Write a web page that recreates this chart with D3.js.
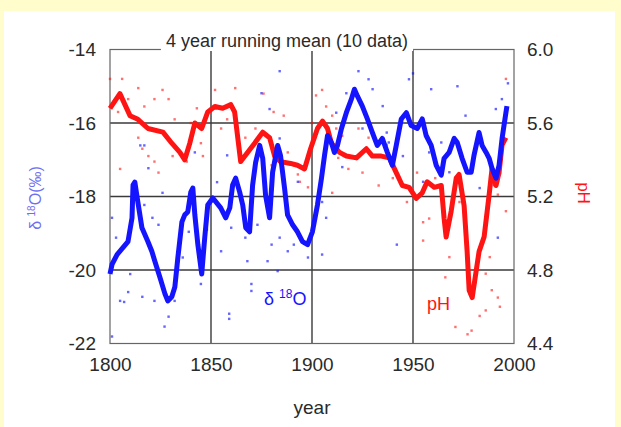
<!DOCTYPE html>
<html>
<head>
<meta charset="utf-8">
<script src="https://cdn.jsdelivr.net/npm/d3@7"></script>
<style>
  body { margin: 0; background: #fffdcc; }
  svg { display: block; font-family: "Liberation Sans", Arial, sans-serif; }
</style>
</head>
<body>
<svg id="chart" width="621" height="427"></svg>
<script>
// 4 year running means, [year, value]
const d18oMean = [
  [1800.0, -20.11], [1801.0, -19.85], [1803.5, -19.58], [1806.4, -19.39], [1808.9, -19.23],
  [1810.9, -18.58], [1811.4, -17.69], [1812.3, -17.61], [1813.8, -18.15], [1815.8, -18.85],
  [1817.3, -19.04], [1818.8, -19.23], [1820.7, -19.49], [1822.2, -19.76], [1824.7, -20.20],
  [1827.2, -20.65], [1828.6, -20.84], [1830.6, -20.73], [1832.1, -20.46], [1833.6, -19.66],
  [1835.6, -18.69], [1837.0, -18.50], [1838.5, -18.42], [1840.0, -17.88], [1841.0, -17.77],
  [1842.0, -18.50], [1843.5, -19.31], [1845.4, -20.11], [1846.9, -19.12], [1848.4, -18.23],
  [1850.9, -18.04], [1854.8, -18.31], [1857.3, -18.58], [1859.3, -18.31], [1860.7, -17.69],
  [1862.2, -17.50], [1864.2, -17.88], [1865.7, -18.23], [1867.2, -18.85], [1869.1, -18.96],
  [1870.6, -17.69], [1872.1, -17.07], [1874.1, -16.61], [1875.6, -16.96], [1877.0, -17.96],
  [1879.0, -18.58], [1880.5, -17.34], [1883.0, -16.61], [1884.4, -16.88], [1886.4, -17.77],
  [1887.9, -18.50], [1890.4, -18.77], [1892.8, -18.96], [1895.3, -19.23], [1897.8, -19.31],
  [1900.2, -18.96], [1902.7, -18.23], [1904.7, -17.50], [1906.2, -16.88], [1907.7, -16.34],
  [1909.6, -16.53], [1911.1, -16.80], [1912.6, -16.61], [1914.6, -16.15], [1917.0, -15.72],
  [1919.5, -15.35], [1921.0, -15.08], [1922.5, -15.27], [1924.9, -15.54], [1927.4, -15.89],
  [1929.9, -16.26], [1932.3, -16.61], [1934.8, -16.42], [1937.3, -16.80], [1939.8, -17.15],
  [1941.7, -16.61], [1944.2, -15.89], [1946.7, -15.72], [1949.1, -16.07], [1952.1, -16.15],
  [1954.6, -15.89], [1956.5, -16.34], [1959.0, -16.61], [1961.5, -17.15], [1964.0, -17.42],
  [1965.4, -16.96], [1967.9, -16.80], [1970.4, -16.42], [1971.9, -16.53], [1974.3, -16.96],
  [1976.8, -17.34], [1978.8, -17.34], [1980.2, -16.88], [1982.7, -16.26], [1984.2, -16.61],
  [1986.2, -16.80], [1987.7, -16.96], [1989.1, -17.23], [1991.1, -17.50], [1992.6, -17.15],
  [1994.1, -16.42], [1996.0, -15.72], [1996.5, -15.54]
];

const phMean = [
  [1800.0, 5.68], [1804.9, 5.76], [1809.9, 5.64], [1813.8, 5.62], [1818.8, 5.57],
  [1826.2, 5.55], [1830.6, 5.49], [1834.6, 5.44], [1837.0, 5.40], [1839.5, 5.49],
  [1842.0, 5.60], [1845.4, 5.57], [1848.4, 5.66], [1851.9, 5.69], [1855.8, 5.68],
  [1859.8, 5.70], [1861.7, 5.66], [1864.7, 5.39], [1868.1, 5.44], [1871.6, 5.49],
  [1875.6, 5.55], [1879.0, 5.52], [1881.5, 5.42], [1884.4, 5.39], [1889.4, 5.38],
  [1892.8, 5.37], [1896.3, 5.35], [1899.3, 5.46], [1902.7, 5.57], [1905.2, 5.61],
  [1907.7, 5.57], [1909.6, 5.49], [1913.6, 5.44], [1917.0, 5.42], [1922.0, 5.41],
  [1926.9, 5.46], [1929.9, 5.42], [1934.3, 5.42], [1938.3, 5.41], [1941.7, 5.33],
  [1944.7, 5.26], [1948.1, 5.25], [1951.6, 5.19], [1954.6, 5.22], [1957.0, 5.28],
  [1960.5, 5.25], [1964.0, 5.26], [1965.4, 5.08], [1966.4, 4.98], [1968.9, 5.12],
  [1971.4, 5.30], [1972.8, 5.32], [1975.3, 5.15], [1976.8, 4.90], [1977.8, 4.69],
  [1979.3, 4.65], [1981.2, 4.79], [1982.7, 4.90], [1985.2, 4.98], [1987.7, 5.21],
  [1989.1, 5.35], [1991.1, 5.26], [1992.6, 5.33], [1994.1, 5.48], [1996.0, 5.52]
];

// single measurements (scatter)
const d18oPoints = [
  [1815, -16.61], [1801, -18.58], [1803, -19.12], [1817, -18.23], [1821, -18.58],
  [1824, -18.77], [1810, -20.11], [1809, -20.60], [1805, -20.84], [1807, -20.87],
  [1816, -20.73], [1822, -20.84], [1829, -21.27], [1827, -21.54], [1832, -20.84],
  [1836, -19.66], [1839, -18.96], [1845, -20.38], [1801, -21.81], [1817, -16.61],
  [1819, -17.23], [1842, -16.80], [1884, -14.59], [1875, -15.19], [1879, -15.62],
  [1858, -16.88], [1853, -17.61], [1860, -18.85], [1867, -19.12], [1873, -18.77],
  [1880, -19.31], [1884, -19.12], [1888, -19.49], [1891, -19.31], [1855, -19.49],
  [1868, -19.76], [1878, -19.76], [1883, -20.03], [1898, -19.66], [1870, -20.38],
  [1870, -20.57], [1859, -21.19], [1859, -21.33], [1865, -16.96], [1884, -16.42],
  [1923, -14.59], [1928, -14.81], [1930, -15.08], [1935, -15.54], [1917, -15.19],
  [1912, -15.72], [1905, -18.15], [1907, -18.58], [1905, -19.58], [1925, -16.15],
  [1937, -16.26], [1948, -14.81], [1942, -19.31], [1938, -16.53], [1950, -14.65],
  [1959, -15.08], [1972, -15.00], [1976, -15.80], [1991, -15.62], [1994, -15.35],
  [1997, -14.92], [1964, -16.53], [1981, -16.80], [1983, -17.77], [1990, -17.69],
  [1992, -19.12], [1958, -16.80], [1968, -17.34], [1826, -17.90], [1848, -18.90],
  [1863, -16.40], [1893, -17.60], [1915, -17.20], [1945, -16.90], [1955, -17.60]
];

const phPoints = [
  [1800, 5.84], [1806, 5.84], [1814, 5.79], [1822, 5.73], [1826, 5.78], [1829, 5.73],
  [1809, 5.73], [1817, 5.69], [1804, 5.66], [1814, 5.52], [1819, 5.42], [1822, 5.39],
  [1824, 5.33], [1816, 5.46], [1831, 5.42], [1832, 5.62], [1840, 5.60], [1843, 5.68],
  [1845, 5.49], [1846, 5.42], [1838, 5.39], [1805, 5.35], [1847, 5.62], [1852, 5.78],
  [1862, 5.79], [1859, 5.70], [1876, 5.76], [1881, 5.66], [1886, 5.64], [1855, 5.57],
  [1858, 5.62], [1867, 5.52], [1872, 5.57], [1888, 5.44], [1891, 5.37], [1894, 5.28],
  [1898, 5.25], [1893, 5.32], [1880, 5.37], [1900, 5.60], [1902, 5.75], [1907, 5.69],
  [1910, 5.64], [1912, 5.57], [1915, 5.53], [1913, 5.41], [1910, 5.22], [1918, 5.35],
  [1925, 5.33], [1933, 5.26], [1940, 5.30], [1947, 5.17], [1937, 5.48], [1928, 5.52],
  [1905, 5.78], [1923, 5.57], [1955, 5.06], [1958, 5.08], [1955, 4.96], [1968, 4.87],
  [1966, 4.76], [1986, 4.78], [1988, 4.87], [1989, 4.69], [1992, 4.65], [1993, 4.60],
  [1986, 4.58], [1983, 4.55], [1979, 4.47], [1971, 4.49], [1977, 4.45], [1996, 5.84],
  [1973, 5.17], [1961, 5.30], [1952, 5.33], [1996, 5.12], [1992, 5.21]
];

const yearTicks = [1800, 1850, 1900, 1950, 2000];
const d18oTicks = [-22, -20, -18, -16, -14];
const phTicks = [4.4, 4.8, 5.2, 5.6, 6.0];

const blue = "#1414ff";
const red = "#ff1414";

const svg = d3.select("#chart");

svg.append("rect")
  .attr("width", 621).attr("height", 427)
  .attr("fill", "#fffdcc");
svg.append("rect")
  .attr("x", 4).attr("y", 11)
  .attr("width", 611).attr("height", 416)
  .attr("fill", "#ffffff");

const x = d3.scaleLinear().domain([1800, 2000]).range([110, 514]);
const yLeft = d3.scaleLinear().domain([-22, -14]).range([343.5, 49.5]);
const yRight = d3.scaleLinear().domain([4.4, 6.0]).range([343.5, 49.5]);

// grid
const grid = svg.append("g")
  .attr("stroke", "#3a3a3a")
  .attr("stroke-width", 1.4);

grid.selectAll("line.v").data(yearTicks.slice(1, -1)).enter().append("line")
  .attr("x1", d => x(d)).attr("x2", d => x(d))
  .attr("y1", yLeft(-22)).attr("y2", yLeft(-14));

grid.selectAll("line.h").data(d18oTicks.slice(1, -1)).enter().append("line")
  .attr("x1", x(1800)).attr("x2", x(2000))
  .attr("y1", d => yLeft(d)).attr("y2", d => yLeft(d));

svg.append("rect")
  .attr("x", x(1800)).attr("y", yLeft(-14))
  .attr("width", x(2000) - x(1800))
  .attr("height", yLeft(-22) - yLeft(-14))
  .attr("fill", "none")
  .attr("stroke", "#666")
  .attr("stroke-width", 1.2);

// scatter
svg.append("g").attr("fill", red).attr("opacity", 0.6)
  .selectAll("rect").data(phPoints).enter().append("rect")
  .attr("x", d => x(d[0]) - 1.2).attr("y", d => yRight(d[1]) - 1.2)
  .attr("width", 2.4).attr("height", 2.4);

svg.append("g").attr("fill", blue).attr("opacity", 0.65)
  .selectAll("rect").data(d18oPoints).enter().append("rect")
  .attr("x", d => x(d[0]) - 1.2).attr("y", d => yLeft(d[1]) - 1.2)
  .attr("width", 2.4).attr("height", 2.4);

// running means
const phLine = d3.line().x(d => x(d[0])).y(d => yRight(d[1]));
const d18oLine = d3.line().x(d => x(d[0])).y(d => yLeft(d[1]));

svg.append("path")
  .datum(phMean)
  .attr("d", phLine)
  .attr("fill", "none")
  .attr("stroke", red)
  .attr("stroke-width", 5)
  .attr("stroke-linejoin", "round");

svg.append("path")
  .datum(d18oMean)
  .attr("d", d18oLine)
  .attr("fill", "none")
  .attr("stroke", blue)
  .attr("stroke-width", 5)
  .attr("stroke-linejoin", "round");

// axes
function styleAxis(g) {
  g.select(".domain").remove();
  g.selectAll("text")
    .attr("fill", "#2a2a2a")
    .style("font-size", "19px");
}

svg.append("g")
  .attr("transform", `translate(${x(1800)},0)`)
  .call(d3.axisLeft(yLeft).tickValues(d18oTicks).tickSize(0).tickPadding(14)
    .tickFormat(d => String(d)))
  .call(styleAxis);

svg.append("g")
  .attr("transform", `translate(${x(2000)},0)`)
  .call(d3.axisRight(yRight).tickValues(phTicks).tickSize(0).tickPadding(13)
    .tickFormat(d3.format(".1f")))
  .call(styleAxis);

svg.append("g")
  .attr("transform", `translate(0,${yLeft(-22)})`)
  .call(d3.axisBottom(x).tickValues(yearTicks).tickSize(0).tickPadding(14)
    .tickFormat(d => String(d)))
  .call(styleAxis);

// title sitting on the top frame
const title = svg.append("text")
  .attr("x", 287).attr("y", 47)
  .attr("text-anchor", "middle")
  .attr("fill", "#2a2a2a")
  .style("font-size", "18px")
  .text("4 year running mean (10 data)");
const tb = title.node().getBBox();
svg.insert("rect", () => title.node())
  .attr("x", tb.x - 5).attr("y", tb.y)
  .attr("width", tb.width + 10).attr("height", tb.height)
  .attr("fill", "#ffffff");

svg.append("text")
  .attr("x", 312).attr("y", 414)
  .attr("text-anchor", "middle")
  .attr("fill", "#2a2a2a")
  .style("font-size", "19px")
  .text("year");

// axis titles
const leftLabel = svg.append("text")
  .attr("transform", "translate(41,198) rotate(-90)")
  .attr("text-anchor", "middle")
  .attr("fill", "#6f6ff2")
  .style("font-size", "16px");
leftLabel.append("tspan").text("\u03b4 ");
leftLabel.append("tspan").attr("dy", -6).style("font-size", "10px").text("18");
leftLabel.append("tspan").attr("dy", 6).text("O(\u2030)");

svg.append("text")
  .attr("transform", "translate(578,193) rotate(90)")
  .attr("text-anchor", "middle")
  .attr("fill", red)
  .style("font-size", "17px")
  .text("pH");

// series labels inside the plot
const d18oLabel = svg.append("text")
  .attr("x", 264).attr("y", 305)
  .attr("fill", blue)
  .style("font-size", "18px");
d18oLabel.append("tspan").text("\u03b4 ");
d18oLabel.append("tspan").attr("dy", -7).style("font-size", "12px").text("18");
d18oLabel.append("tspan").attr("dy", 7).text("O");

svg.append("text")
  .attr("x", 427).attr("y", 310)
  .attr("fill", red)
  .style("font-size", "18px")
  .text("pH");
</script>
</body>
</html>
